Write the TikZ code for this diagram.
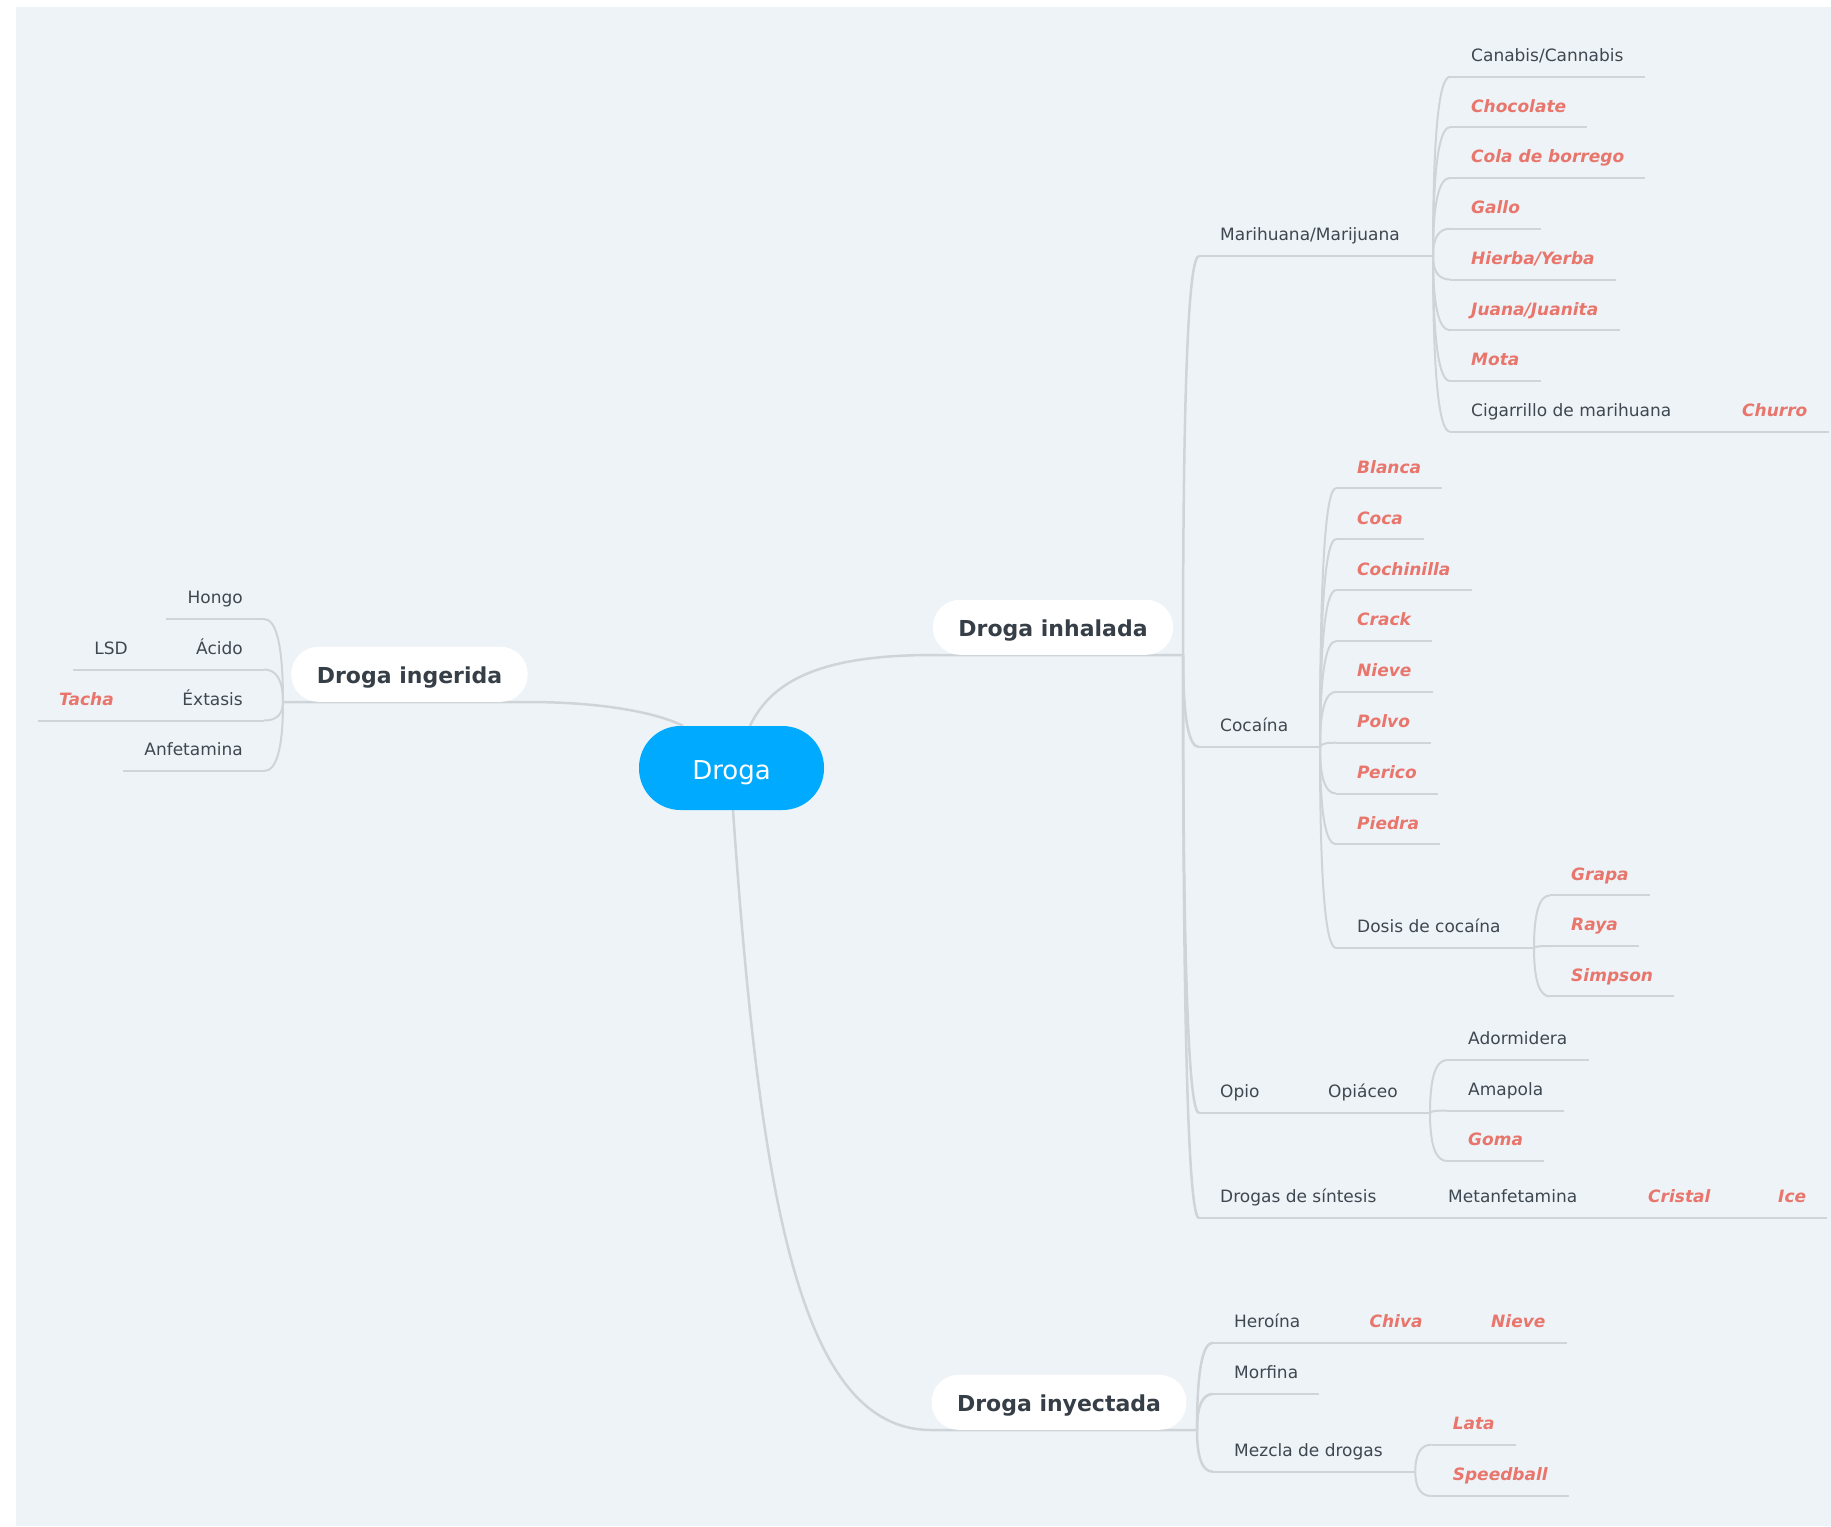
\documentclass[tikz,border=0pt]{standalone}
\usepackage{fontspec}
\setmainfont{DejaVu Sans}[BoldFont={DejaVu Sans Bold},ItalicFont={DejaVu Sans Oblique},BoldItalicFont={DejaVu Sans Bold Oblique}]
\usetikzlibrary{calc}
\pgfdeclarelayer{canvas}
\pgfdeclarelayer{links}
\pgfsetlayers{canvas,links,main}

\definecolor{bgc}{HTML}{EEF3F7}
\definecolor{linec}{HTML}{CFD4D8}
\definecolor{txtc}{HTML}{3F4850}
\definecolor{headc}{HTML}{363F47}
\definecolor{redc}{HTML}{E8766C}
\definecolor{rootc}{HTML}{00AAFF}

\tikzset{
  leaf/.style={inner xsep=21pt, inner ysep=0pt, text height=13pt, text depth=15pt,
    font=\fontsize{17}{20}\selectfont, text=txtc},
  slang/.style={leaf, font=\fontsize{17}{20}\selectfont\bfseries\itshape, text=redc},
  topic/.style={fill=white, rounded corners=27pt, minimum height=55pt, inner xsep=25.5pt,
    inner ysep=0pt, text height=20pt, text depth=2pt,
    font=\fontsize{22}{26}\selectfont\bfseries, text=headc},
  rootnode/.style={fill=rootc, rounded corners=41.5pt, minimum width=185pt, minimum height=84pt,
    inner sep=0pt, text height=22pt, text depth=0pt, font=\fontsize{26}{31}\selectfont, text=white},
  link/.style={draw=linec, line width=2pt},
  biglink/.style={draw=linec, line width=2.5pt},
  brace/.style={to path={.. controls ($(\tikztostart)!0.6667!(\tikztostart|-\tikztotarget)$)
    and ($(\tikztotarget)!0.6667!(\tikztostart|-\tikztotarget)$) .. (\tikztotarget)}},
}

\begin{document}
\begin{tikzpicture}[x=1pt,y=-1pt]
\useasboundingbox (0,0) rectangle (1831,1526);
\begin{pgfonlayer}{canvas}
  \fill[bgc] (16,7) rectangle (1831,1526);
\end{pgfonlayer}

% central topic and main branches
\node[rootnode] (root) at (731.5,768) {Droga};
\node[topic, anchor=south] (ing) at (409.5,702) {Droga ingerida};
\node[topic, anchor=south] (inh) at (1053,655) {Droga inhalada};
\node[topic, anchor=south] (iny) at (1059,1430) {Droga inyectada};

% ---- Droga ingerida (left side)
\coordinate (jing) at (283,702);
\node[leaf, anchor=south east] (hongo) at (264,619) {Hongo};
\node[leaf, anchor=south east] (acido) at (264,669.5) {Ácido};
\node[leaf, anchor=south east] (lsd) at (149,669.5) {LSD};
\node[leaf, anchor=south east] (extasis) at (264,720.5) {Éxtasis};
\node[slang, anchor=south east] (tacha) at (135,720.5) {Tacha};
\node[leaf, anchor=south east] (anfeta) at (264,771) {Anfetamina};

% ---- Droga inhalada
\coordinate (jinh) at (1183,655);
\node[leaf, anchor=south west] (mari) at (1199,256) {Marihuana/Marijuana};
\coordinate (jmar) at (1433,256);
\node[leaf, anchor=south west] (canabis) at (1450,76.7) {Canabis/Cannabis};
\node[slang, anchor=south west] (choco) at (1450,127.3) {Chocolate};
\node[slang, anchor=south west] (cola) at (1450,177.9) {Cola de borrego};
\node[slang, anchor=south west] (gallo) at (1450,228.7) {Gallo};
\node[slang, anchor=south west] (hierba) at (1450,279.5) {Hierba/Yerba};
\node[slang, anchor=south west] (juana) at (1450,330.2) {Juana/Juanita};
\node[slang, anchor=south west] (mota) at (1450,381) {Mota};
\node[leaf, anchor=south west] (cig) at (1450,431.7) {Cigarrillo de marihuana};
\node[slang, anchor=south west] (churro) at (1721,431.7) {Churro};

\node[leaf, anchor=south west] (coca) at (1199,747) {Cocaína};
\coordinate (jcoc) at (1320,747);
\node[slang, anchor=south west] (blanca) at (1336,488.2) {Blanca};
\node[slang, anchor=south west] (cocas) at (1336,539.2) {Coca};
\node[slang, anchor=south west] (cochi) at (1336,590.2) {Cochinilla};
\node[slang, anchor=south west] (crack) at (1336,641.1) {Crack};
\node[slang, anchor=south west] (nieve) at (1336,691.9) {Nieve};
\node[slang, anchor=south west] (polvo) at (1336,742.7) {Polvo};
\node[slang, anchor=south west] (perico) at (1336,793.5) {Perico};
\node[slang, anchor=south west] (piedra) at (1336,844.3) {Piedra};
\node[leaf, anchor=south west] (dosis) at (1336,947.9) {Dosis de cocaína};
\coordinate (jdos) at (1534,947.9);
\node[slang, anchor=south west] (grapa) at (1550,895.4) {Grapa};
\node[slang, anchor=south west] (raya) at (1550,946) {Raya};
\node[slang, anchor=south west] (simpson) at (1550,996.4) {Simpson};

\node[leaf, anchor=south west] (opio) at (1199,1113) {Opio};
\node[leaf, anchor=south west] (opiaceo) at (1307,1113) {Opiáceo};
\coordinate (jopi) at (1430,1113);
\node[leaf, anchor=south west] (ador) at (1447,1060) {Adormidera};
\node[leaf, anchor=south west] (amapola) at (1447,1110.5) {Amapola};
\node[slang, anchor=south west] (goma) at (1447,1161) {Goma};

\node[leaf, anchor=south west] (sint) at (1199,1218) {Drogas de síntesis};
\node[leaf, anchor=south west] (metan) at (1427,1218) {Metanfetamina};
\node[slang, anchor=south west] (cristal) at (1627,1218) {Cristal};
\node[slang, anchor=south west] (ice) at (1757,1218) {Ice};

% ---- Droga inyectada
\coordinate (jiny) at (1197,1430);
\node[leaf, anchor=south west] (heroina) at (1213,1342.7) {Heroína};
\node[slang, anchor=south west] (chiva) at (1348.4,1342.7) {Chiva};
\node[slang, anchor=south west] (nieveh) at (1470,1342.7) {Nieve};
\node[leaf, anchor=south west] (morfina) at (1213,1394) {Morfina};
\node[leaf, anchor=south west] (mezcla) at (1213,1471.7) {Mezcla de drogas};
\coordinate (jmez) at (1415.3,1471.7);
\node[slang, anchor=south west] (lata) at (1431.6,1444.7) {Lata};
\node[slang, anchor=south west] (speed) at (1431.6,1496) {Speedball};

\begin{pgfonlayer}{links}
  % central topic to main branches
  \draw[biglink] ($(root.north)+(-48.5,0)$) .. controls (655,712) and (600,702) .. (ing.south east) -- (jing);
  \draw[biglink] ($(root.north)+(18.5,0)$) .. controls (772,680) and (822,655) .. (inh.south west) -- (jinh);
  \draw[biglink] ($(root.south)+(1.5,0)$) .. controls (760,1200) and (800,1430) .. (iny.south west) -- (jiny);

  % Droga ingerida
  \foreach \n in {hongo,acido,extasis,anfeta} \draw[link] (jing) to[brace] (\n.south east);
  \draw[link] (hongo.south west) -- (hongo.south east);
  \draw[link] (lsd.south west) -- (acido.south east);
  \draw[link] (tacha.south west) -- (extasis.south east);
  \draw[link] (anfeta.south west) -- (anfeta.south east);

  % Droga inhalada
  \foreach \n in {mari,coca,opio,sint} \draw[biglink] (jinh) to[brace] (\n.south west);
  \draw[link] (mari.south west) -- (jmar);
  \foreach \n in {canabis,choco,cola,gallo,hierba,juana,mota,cig} \draw[link] (jmar) to[brace] (\n.south west);
  \foreach \n in {canabis,choco,cola,gallo,hierba,juana,mota} \draw[link] (\n.south west) -- (\n.south east);
  \draw[link] (cig.south west) -- (churro.south east);

  \draw[link] (coca.south west) -- (jcoc);
  \foreach \n in {blanca,cocas,cochi,crack,nieve,polvo,perico,piedra,dosis} \draw[link] (jcoc) to[brace] (\n.south west);
  \foreach \n in {blanca,cocas,cochi,crack,nieve,polvo,perico,piedra} \draw[link] (\n.south west) -- (\n.south east);
  \draw[link] (dosis.south west) -- (jdos);
  \foreach \n in {grapa,raya,simpson} {
    \draw[link] (jdos) to[brace] (\n.south west);
    \draw[link] (\n.south west) -- (\n.south east);
  }

  \draw[link] (opio.south west) -- (opiaceo.south east) -- (jopi);
  \foreach \n in {ador,amapola,goma} {
    \draw[link] (jopi) to[brace] (\n.south west);
    \draw[link] (\n.south west) -- (\n.south east);
  }

  \draw[link] (sint.south west) -- (ice.south east);

  % Droga inyectada
  \foreach \n in {heroina,morfina,mezcla} \draw[biglink] (jiny) to[brace] (\n.south west);
  \draw[link] (heroina.south west) -- (nieveh.south east);
  \draw[link] (morfina.south west) -- (morfina.south east);
  \draw[link] (mezcla.south west) -- (jmez);
  \foreach \n in {lata,speed} {
    \draw[link] (jmez) to[brace] (\n.south west);
    \draw[link] (\n.south west) -- (\n.south east);
  }
\end{pgfonlayer}
\end{tikzpicture}
\end{document}
